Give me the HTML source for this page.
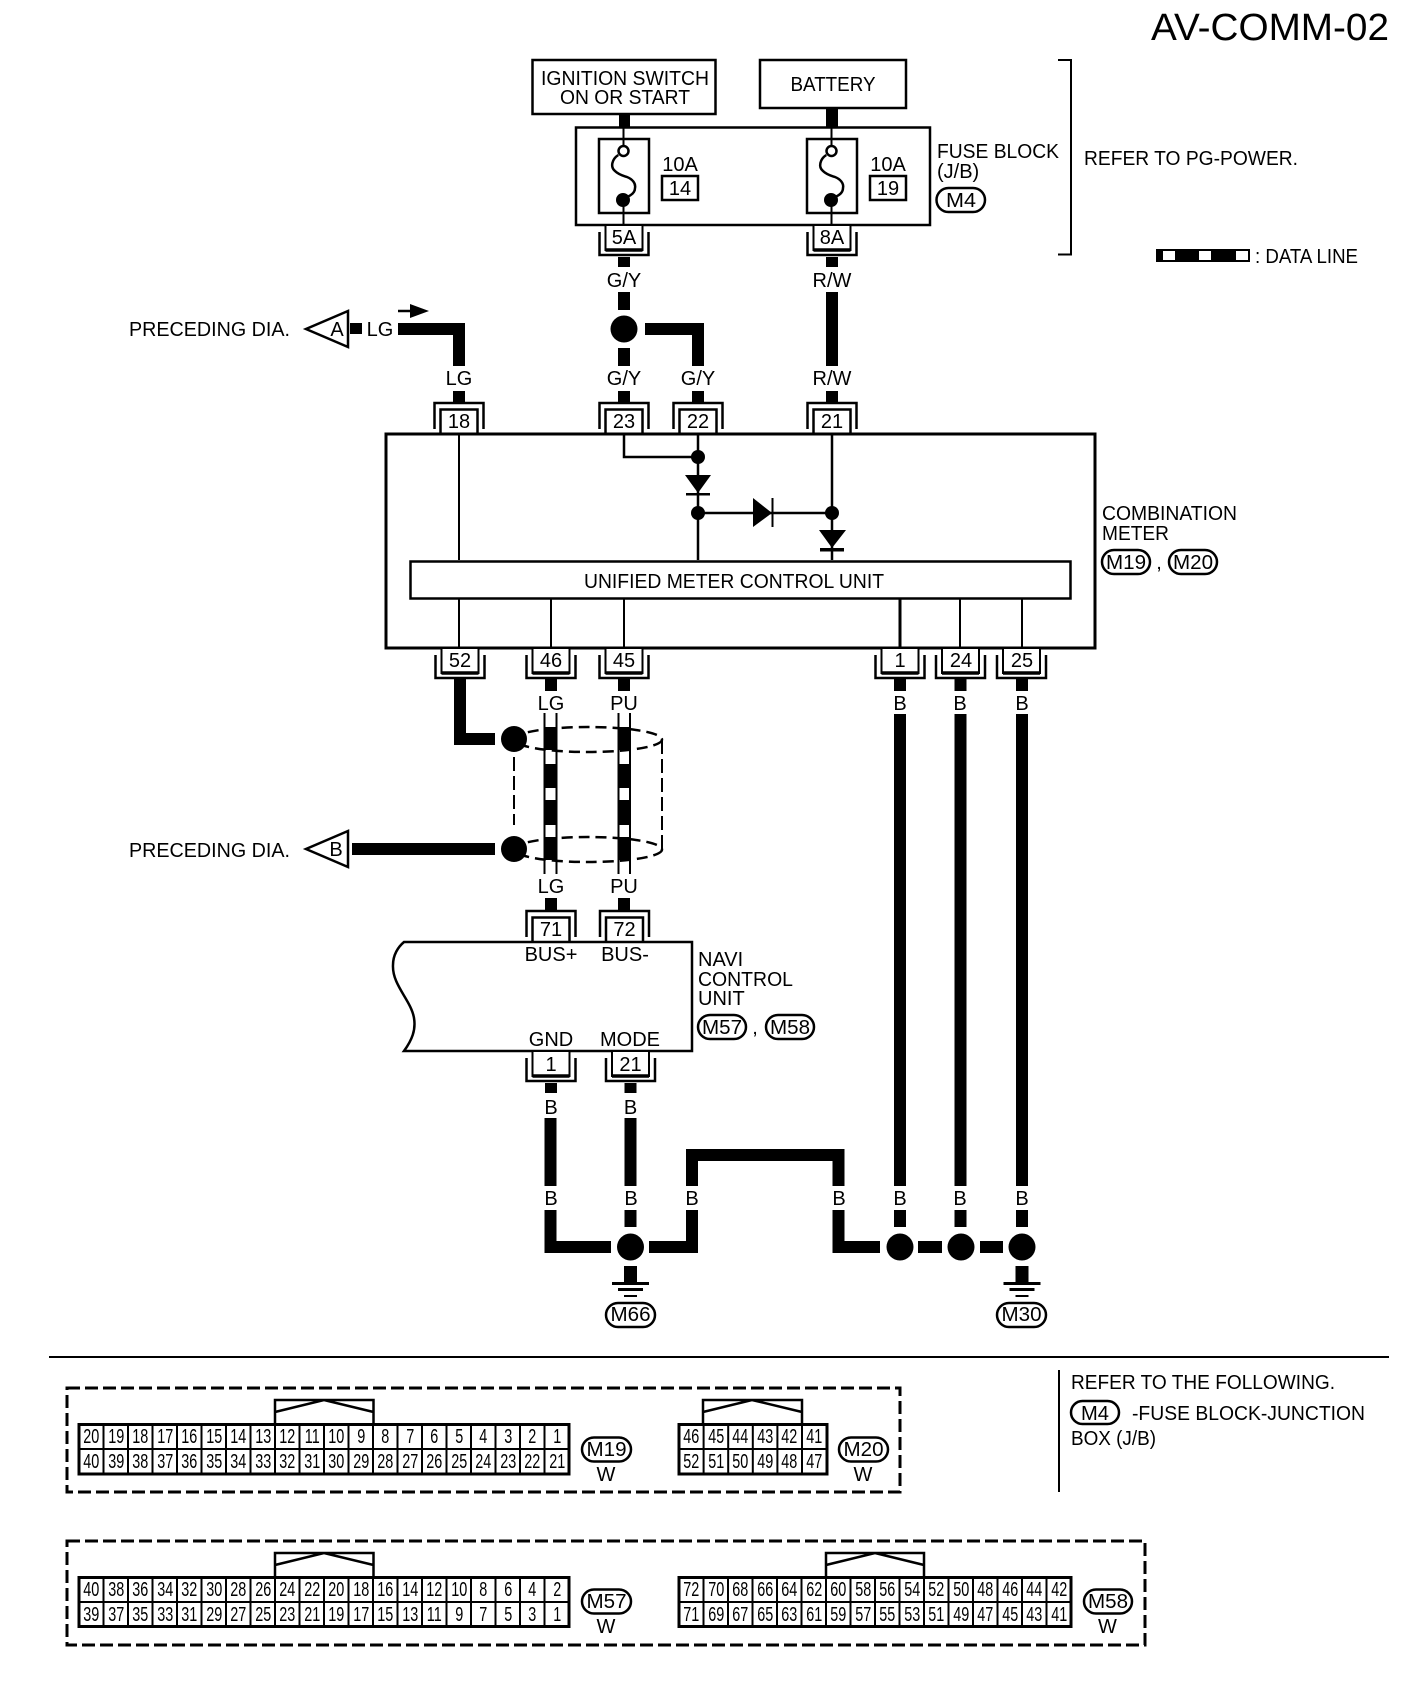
<!DOCTYPE html>
<html><head><meta charset="utf-8"><title>AV-COMM-02</title>
<style>
html,body{margin:0;padding:0;background:#fff}
#p{position:relative;width:1408px;height:1696px;overflow:hidden;background:#fff}
svg{position:absolute;left:0;top:0}
text{font-family:"Liberation Sans",sans-serif;font-size:20px;fill:#000}
.m{text-anchor:middle}
.w{fill:none;stroke:#000;stroke-width:12}
.l{fill:none;stroke:#000;stroke-width:2}
.n{fill:none;stroke:#000;stroke-width:2.5}
.o{fill:#fff;stroke:#000;stroke-width:2.5}
.d{fill:none;stroke:#000;stroke-width:3;stroke-dasharray:13 5}
.g{position:absolute;display:grid;grid-auto-rows:25px;color:#000}
.g b{display:block;font:normal 20px/25px "Liberation Sans",sans-serif;text-align:center;transform:scaleX(.72)}
</style></head><body><div id="p">
<svg width="1408" height="1696" viewBox="0 0 1408 1696" xmlns="http://www.w3.org/2000/svg">
<defs>
<g id="ct"><path d="M-24.500,27V1H24.500V27" fill="none" stroke="#000" stroke-width="2.500"/><path d="M-18.500,31V7.500H18.500V31" fill="#fff" stroke="#000" stroke-width="2.500"/></g>
<g id="cb"><path d="M-24.500,6V29H24.500V6" fill="none" stroke="#000" stroke-width="2.500"/><path d="M-18.500,0V24H18.500V0" fill="#fff" stroke="#000" stroke-width="2"/><path d="M-18.500,24H18.500" stroke="#000" stroke-width="3.500"/></g>
<g id="gnd"><rect x="-6.500" y="0" width="13" height="16" fill="#000"/><rect x="-18.500" y="16" width="37" height="3" fill="#000"/><rect x="-12.500" y="22" width="25" height="3" fill="#000"/><rect x="-6.500" y="29" width="13" height="2" fill="#000"/></g>
<g id="fuse"><rect x="-25" y="0" width="50" height="74" fill="#fff" stroke="#000" stroke-width="2.500"/><path d="M-0.500,-12V7M-0.500,67V88" class="l"/><circle cx="-0.500" cy="12" r="5" fill="#fff" stroke="#000" stroke-width="2.500"/><path d="M-5.700,16C-12,20 -14,28 -9,32C-5,36 0,37 3,38C8,40 12,44 11,49C11,53 8,56 3,58" class="n"/><circle cx="-1" cy="61" r="7" fill="#000"/></g>
</defs>

<text x="1151" y="40" style="font-size:38px" textLength="238" lengthAdjust="spacingAndGlyphs">AV-COMM-02</text>

<!-- top boxes -->
<rect x="532.500" y="60" width="183" height="54" fill="#fff" stroke="#000" stroke-width="2.500"/>
<text x="625" y="85" class="m" textLength="168" lengthAdjust="spacingAndGlyphs">IGNITION SWITCH</text>
<text x="625" y="104" class="m" textLength="130" lengthAdjust="spacingAndGlyphs">ON OR START</text>
<rect x="760" y="60" width="146" height="48" fill="#fff" stroke="#000" stroke-width="2.500"/>
<text x="833" y="91" class="m" textLength="85" lengthAdjust="spacingAndGlyphs">BATTERY</text>
<rect x="619" y="114" width="11" height="13" fill="#000"/>
<rect x="826" y="108" width="12" height="19" fill="#000"/>

<rect x="576" y="127.500" width="354" height="97.500" fill="#fff" stroke="#000" stroke-width="2.500"/>
<use href="#fuse" x="624" y="139"/>
<use href="#fuse" x="832" y="139"/>
<text x="680" y="171" class="m">10A</text>
<text x="888" y="171" class="m">10A</text>
<rect x="662" y="176" width="36" height="24" fill="#fff" stroke="#000" stroke-width="2.500"/>
<rect x="870" y="176" width="36" height="24" fill="#fff" stroke="#000" stroke-width="2.500"/>
<text x="680" y="195" class="m">14</text>
<text x="888" y="195" class="m">19</text>
<text x="937" y="158" textLength="122" lengthAdjust="spacingAndGlyphs">FUSE BLOCK</text>
<text x="937" y="178">(J/B)</text>
<rect x="936.500" y="188" width="48.500" height="24" rx="12" class="o"/>
<text x="961" y="207" class="m" textLength="30" lengthAdjust="spacingAndGlyphs">M4</text>
<path d="M1058,60H1071V254.500H1058" class="l"/>
<text x="1084" y="165" textLength="214" lengthAdjust="spacingAndGlyphs">REFER TO PG-POWER.</text>
<rect x="1157" y="250" width="92" height="11" fill="#fff" stroke="#000" stroke-width="2"/>
<rect x="1156" y="249" width="7" height="12" fill="#000"/><rect x="1175" y="249" width="24" height="12" fill="#000"/><rect x="1211" y="249" width="25" height="12" fill="#000"/>
<text x="1255" y="263" textLength="103" lengthAdjust="spacingAndGlyphs">: DATA LINE</text>

<use href="#cb" x="624" y="226"/><use href="#cb" x="832" y="226"/>
<text x="624" y="244" class="m">5A</text><text x="832" y="244" class="m">8A</text>
<path d="M624,257V267M624,292V310M624,348V366M624,391V403M832,257V267M832,292V366M832,391V403M459,391V403M698,391V403" class="w"/>
<text x="624" y="287" class="m">G/Y</text><text x="832" y="287" class="m">R/W</text>
<circle cx="624" cy="329" r="13.500" fill="#000"/>
<path d="M645,329H698V366" class="w"/>
<path d="M398,329H459V366" class="w"/>
<rect x="350" y="323" width="12" height="11" fill="#000"/>
<text x="380" y="336" class="m">LG</text>
<path d="M348,311V347L306,329Z" fill="#fff" stroke="#000" stroke-width="2.500"/>
<text x="337" y="336" class="m">A</text>
<text x="129" y="336" textLength="161" lengthAdjust="spacingAndGlyphs">PRECEDING DIA.</text>
<path d="M398,311H412" class="n"/><path d="M410,304L429,311L410,318Z" fill="#000"/>
<text x="459" y="385" class="m">LG</text><text x="624" y="385" class="m">G/Y</text><text x="698" y="385" class="m">G/Y</text><text x="832" y="385" class="m">R/W</text>

<!-- combination meter -->
<use href="#ct" x="459" y="402"/><use href="#ct" x="624" y="402"/><use href="#ct" x="698" y="402"/><use href="#ct" x="832" y="402"/>
<text x="459" y="428" class="m">18</text><text x="624" y="428" class="m">23</text><text x="698" y="428" class="m">22</text><text x="832" y="428" class="m">21</text>
<rect x="386" y="434" width="709" height="214" fill="#fff" stroke="#000" stroke-width="3"/>
<rect x="410.500" y="561.500" width="660" height="37" fill="#fff" stroke="#000" stroke-width="2.500"/>
<text x="584" y="588" textLength="300" lengthAdjust="spacingAndGlyphs">UNIFIED METER CONTROL UNIT</text>
<path d="M459,435V560M551,599V647M624,599V647M960,599V647M1022,599V647M459,599V647" class="l"/>
<path d="M624,435V457H697" class="n"/>
<path d="M698,435V560M832,435V560M698,513H832" class="n"/>
<path d="M900,599V647" fill="none" stroke="#000" stroke-width="3"/>
<circle cx="698" cy="457" r="7" fill="#000"/><circle cx="698" cy="513" r="7" fill="#000"/><circle cx="832" cy="513" r="7" fill="#000"/>
<path d="M685,475H711L698,493Z" fill="#000"/><rect x="686" y="493" width="24" height="2.500" fill="#000"/>
<path d="M753,498V527L772,513Z" fill="#000"/><rect x="771.500" y="498" width="2" height="29" fill="#000"/>
<path d="M819,530H846L832,548Z" fill="#000"/><rect x="820" y="548" width="24" height="3.500" fill="#000"/>
<text x="1102" y="520" textLength="135" lengthAdjust="spacingAndGlyphs">COMBINATION</text>
<text x="1102" y="540" textLength="67" lengthAdjust="spacingAndGlyphs">METER</text>
<rect x="1102" y="550" width="48" height="24" rx="12" class="o"/><text x="1126" y="569" class="m" textLength="40" lengthAdjust="spacingAndGlyphs">M19</text>
<text x="1159" y="569" class="m">,</text>
<rect x="1169" y="550" width="48" height="24" rx="12" class="o"/><text x="1193" y="569" class="m" textLength="40" lengthAdjust="spacingAndGlyphs">M20</text>

<!-- lower connectors -->
<use href="#cb" x="460" y="649"/><use href="#cb" x="551" y="649"/><use href="#cb" x="624" y="649"/><use href="#cb" x="900" y="649"/><use href="#cb" x="960.500" y="649"/><use href="#cb" x="1021.500" y="649"/>
<text x="460" y="667" class="m">52</text><text x="551" y="667" class="m">46</text><text x="624" y="667" class="m">45</text><text x="900" y="667" class="m">1</text><text x="961" y="667" class="m">24</text><text x="1022" y="667" class="m">25</text>
<path d="M460,678V739H495" class="w"/>
<path d="M551,679V691M624,679V691M900,679V691M960.500,679V691M1022,679V691M900,714V1186M960.500,714V1186M1022,714V1186M900,1210V1227M960.500,1210V1227M1022,1210V1227" class="w"/>
<text x="551" y="710" class="m">LG</text><text x="624" y="710" class="m">PU</text><text x="900" y="710" class="m">B</text><text x="960" y="710" class="m">B</text><text x="1022" y="710" class="m">B</text>

<!-- shield -->
<ellipse cx="588" cy="739.500" rx="74" ry="12.500" fill="none" stroke="#000" stroke-width="2.500" stroke-dasharray="11 6"/>
<ellipse cx="588" cy="849.500" rx="74" ry="12.500" fill="none" stroke="#000" stroke-width="2.500" stroke-dasharray="11 6"/>
<path d="M514,757V825M662,740V849" fill="none" stroke="#000" stroke-width="2" stroke-dasharray="14 5"/>
<path d="M544.500,713V874M556.500,713V874M618.500,713V874M630,713V874" class="l"/>
<path d="M544.500,727h12v23h-12zM544.500,764h12v24h-12zM544.500,800h12v25h-12zM544.500,837h12v23h-12zM618,727h12v23h-12zM618,764h12v24h-12zM618,800h12v25h-12zM618,837h12v23h-12z" fill="#000"/>
<circle cx="514" cy="739" r="13" fill="#000"/><circle cx="514" cy="849" r="13" fill="#000"/>
<rect x="352" y="843" width="143" height="12" fill="#000"/>
<path d="M348,831V867L306,849Z" fill="#fff" stroke="#000" stroke-width="2.500"/>
<text x="336" y="856" class="m">B</text>
<text x="129" y="857" textLength="161" lengthAdjust="spacingAndGlyphs">PRECEDING DIA.</text>
<text x="551" y="893" class="m">LG</text><text x="624" y="893" class="m">PU</text>
<path d="M551,898V910M624,898V910" class="w"/>

<!-- navi -->
<use href="#ct" x="551" y="910"/><use href="#ct" x="624.500" y="910"/>
<text x="551" y="936" class="m">71</text><text x="624.500" y="936" class="m">72</text>
<path d="M404,942H692V1051H404C412,1040 416,1030 414,1018C411,1000 392,985 393,965C393,955 398,947 404,942Z" fill="#fff" stroke="#000" stroke-width="2.500"/>
<text x="551" y="961" class="m">BUS+</text><text x="625" y="961" class="m">BUS-</text>
<text x="551" y="1046" class="m">GND</text><text x="630" y="1046" class="m">MODE</text>
<text x="698" y="966">NAVI</text><text x="698" y="986" textLength="95" lengthAdjust="spacingAndGlyphs">CONTROL</text><text x="698" y="1005">UNIT</text>
<rect x="698" y="1015" width="48" height="24" rx="12" class="o"/><text x="722" y="1034" class="m" textLength="40" lengthAdjust="spacingAndGlyphs">M57</text>
<text x="755" y="1034" class="m">,</text>
<rect x="766" y="1015" width="48" height="24" rx="12" class="o"/><text x="790" y="1034" class="m" textLength="40" lengthAdjust="spacingAndGlyphs">M58</text>
<use href="#cb" x="551" y="1052"/><use href="#cb" x="630.500" y="1052"/>
<text x="551" y="1071" class="m">1</text><text x="630.500" y="1071" class="m">21</text>
<path d="M551,1083V1093M630.500,1083V1093M550.500,1118V1186M630.500,1118V1186" class="w"/>
<text x="551" y="1114" class="m">B</text><text x="630.500" y="1114" class="m">B</text>

<!-- ground network -->
<path d="M692,1186V1155H838.500V1186" class="w"/>
<text x="551" y="1205" class="m">B</text><text x="631" y="1205" class="m">B</text><text x="692" y="1205" class="m">B</text><text x="839" y="1205" class="m">B</text><text x="900" y="1205" class="m">B</text><text x="960" y="1205" class="m">B</text><text x="1022" y="1205" class="m">B</text>
<path d="M550.500,1210V1247H611M630.500,1210V1227M649,1247H692V1210M838.500,1210V1247H880M918,1247H942M980,1247H1003" class="w"/>
<circle cx="630.500" cy="1247" r="13.500" fill="#000"/><circle cx="900" cy="1247" r="13.500" fill="#000"/><circle cx="961" cy="1247" r="13.500" fill="#000"/><circle cx="1022" cy="1247" r="13.500" fill="#000"/>
<use href="#gnd" x="630.500" y="1266"/><use href="#gnd" x="1022" y="1266"/>
<rect x="606" y="1303" width="49" height="24" rx="12" class="o"/><text x="630.500" y="1321" class="m" textLength="40" lengthAdjust="spacingAndGlyphs">M66</text>
<rect x="997" y="1303" width="49" height="24" rx="12" class="o"/><text x="1021.500" y="1321" class="m" textLength="40" lengthAdjust="spacingAndGlyphs">M30</text>

<rect x="49" y="1356" width="1340" height="2" fill="#000"/>
<rect x="1058" y="1370" width="2" height="122" fill="#000"/>
<text x="1071" y="1389" textLength="264" lengthAdjust="spacingAndGlyphs">REFER TO THE FOLLOWING.</text>
<rect x="1071" y="1401" width="48" height="23" rx="11.500" class="o"/><text x="1095" y="1420" class="m" textLength="28" lengthAdjust="spacingAndGlyphs">M4</text>
<text x="1132" y="1420" textLength="233" lengthAdjust="spacingAndGlyphs">-FUSE BLOCK-JUNCTION</text>
<text x="1071" y="1445" textLength="85" lengthAdjust="spacingAndGlyphs">BOX (J/B)</text>

<!-- connector frames -->
<rect x="67" y="1388" width="833" height="104" class="d"/>
<rect x="67" y="1541" width="1078" height="104" class="d"/>

<path d="M275,1424V1400H373.500V1424M275,1412L324,1400L373.500,1412" class="n"/>
<path d="M703,1424V1400H802V1424M703,1412L752,1400L802,1412" class="n"/>
<path d="M275,1577V1553H373.500V1577M275,1565L324,1553L373.500,1565" class="n"/>
<path d="M826,1577V1553H924V1577M826,1565L875,1553L924,1565" class="n"/>

<line x1="78" y1="1449" x2="570" y2="1449" stroke="#000" stroke-width="50" stroke-dasharray="2 22.500"/>
<line x1="678" y1="1449" x2="827" y2="1449" stroke="#000" stroke-width="50" stroke-dasharray="2 22.600"/>
<line x1="78" y1="1601.500" x2="570" y2="1601.500" stroke="#000" stroke-width="49" stroke-dasharray="2 22.500"/>
<line x1="678" y1="1601.500" x2="1072" y2="1601.500" stroke="#000" stroke-width="49" stroke-dasharray="2 22.500"/>
<path d="M79,1449H569M679,1449H827M79,1602H569M679,1602H1071" class="l"/>
<rect x="79" y="1424.500" width="490" height="49.500" fill="none" stroke="#000" stroke-width="3"/>
<rect x="679" y="1424.500" width="148" height="49.500" fill="none" stroke="#000" stroke-width="3"/>
<rect x="79" y="1577.500" width="490" height="49" fill="none" stroke="#000" stroke-width="3"/>
<rect x="679" y="1577.500" width="392" height="49" fill="none" stroke="#000" stroke-width="3"/>

<rect x="582" y="1437.500" width="49" height="24" rx="12" class="o"/><text x="606.500" y="1456" class="m" textLength="40" lengthAdjust="spacingAndGlyphs">M19</text><text x="606" y="1481" class="m">W</text>
<rect x="839" y="1437.500" width="49" height="24" rx="12" class="o"/><text x="863.500" y="1456" class="m" textLength="40" lengthAdjust="spacingAndGlyphs">M20</text><text x="863" y="1481" class="m">W</text>
<rect x="582" y="1589.500" width="49" height="24" rx="12" class="o"/><text x="606.500" y="1608" class="m" textLength="40" lengthAdjust="spacingAndGlyphs">M57</text><text x="606" y="1633" class="m">W</text>
<rect x="1084" y="1589.500" width="48" height="24" rx="12" class="o"/><text x="1108" y="1608" class="m" textLength="40" lengthAdjust="spacingAndGlyphs">M58</text><text x="1107.500" y="1633" class="m">W</text>
</svg>

<div class="g" style="left:79px;top:1425px;grid-template-columns:repeat(20,24.5px)"><b>20</b><b>19</b><b>18</b><b>17</b><b>16</b><b>15</b><b>14</b><b>13</b><b>12</b><b>11</b><b>10</b><b>9</b><b>8</b><b>7</b><b>6</b><b>5</b><b>4</b><b>3</b><b>2</b><b>1</b><b>40</b><b>39</b><b>38</b><b>37</b><b>36</b><b>35</b><b>34</b><b>33</b><b>32</b><b>31</b><b>30</b><b>29</b><b>28</b><b>27</b><b>26</b><b>25</b><b>24</b><b>23</b><b>22</b><b>21</b></div>
<div class="g" style="left:679px;top:1425px;grid-template-columns:repeat(6,24.6px)"><b>46</b><b>45</b><b>44</b><b>43</b><b>42</b><b>41</b><b>52</b><b>51</b><b>50</b><b>49</b><b>48</b><b>47</b></div>
<div class="g" style="left:79px;top:1578px;grid-template-columns:repeat(20,24.5px)"><b>40</b><b>38</b><b>36</b><b>34</b><b>32</b><b>30</b><b>28</b><b>26</b><b>24</b><b>22</b><b>20</b><b>18</b><b>16</b><b>14</b><b>12</b><b>10</b><b>8</b><b>6</b><b>4</b><b>2</b><b>39</b><b>37</b><b>35</b><b>33</b><b>31</b><b>29</b><b>27</b><b>25</b><b>23</b><b>21</b><b>19</b><b>17</b><b>15</b><b>13</b><b>11</b><b>9</b><b>7</b><b>5</b><b>3</b><b>1</b></div>
<div class="g" style="left:679px;top:1578px;grid-template-columns:repeat(16,24.5px)"><b>72</b><b>70</b><b>68</b><b>66</b><b>64</b><b>62</b><b>60</b><b>58</b><b>56</b><b>54</b><b>52</b><b>50</b><b>48</b><b>46</b><b>44</b><b>42</b><b>71</b><b>69</b><b>67</b><b>65</b><b>63</b><b>61</b><b>59</b><b>57</b><b>55</b><b>53</b><b>51</b><b>49</b><b>47</b><b>45</b><b>43</b><b>41</b></div>
</div></body></html>
